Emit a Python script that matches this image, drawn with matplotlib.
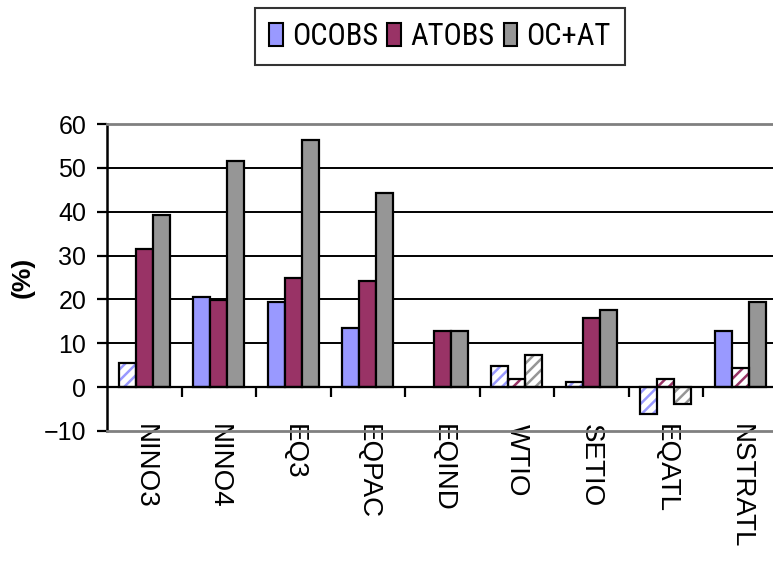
import numpy as np
import matplotlib
matplotlib.use("Agg")
import matplotlib.pyplot as plt
from matplotlib.patches import Patch
from matplotlib import font_manager

regions = ["NINO3", "NINO4", "EQ3", "EQPAC", "EQIND", "WTIO", "SETIO", "EQATL", "NSTRATL"]
series_names = ["OCOBS", "ATOBS", "OC+AT"]
ocobs = [5.6, 20.6, 19.3, 13.4, 0.0, 4.8, 1.2, -6.2, 12.8]
atobs = [31.5, 19.8, 24.9, 24.2, 12.8, 1.9, 15.7, 1.9, 4.3]
ocat = [39.3, 51.5, 56.3, 44.3, 12.8, 7.3, 17.6, -3.8, 19.4]
# True where the value is not significant (drawn as a hatched, unfilled bar)
ocobs_hatched = [True, False, False, False, False, True, True, True, False]
atobs_hatched = [False, False, False, False, False, True, False, True, True]
ocat_hatched = [False, False, False, False, False, True, False, True, False]
yticks = [-10, 0, 10, 20, 30, 40, 50, 60]

colors = ["#9999FF", "#993366", "#969696"]

installed = {f.name for f in font_manager.fontManager.ttflist}

def pick_family(names):
    for n in names:
        if n in installed:
            return n
    return "DejaVu Sans"

base_font = pick_family(["Liberation Sans", "Arial", "DejaVu Sans"])
narrow_candidates = ["Liberation Sans Narrow", "Arial Narrow", "Roboto Condensed",
                     "DejaVu Sans Condensed"]
narrow_font = next((n for n in narrow_candidates if n in installed), None)
plt.rcParams["font.family"] = [base_font, "DejaVu Sans"]
plt.rcParams["hatch.linewidth"] = 1.8

W, H = 773, 568
fig = plt.figure(figsize=(W / 100, H / 100), dpi=100)
left, right, top, bottom = 107, 777.5, 124, 431
ax = fig.add_axes([left / W, 1 - bottom / H, (right - left) / W, (bottom - top) / H])

x = np.arange(len(regions))
bw = 0.23
data = [ocobs, atobs, ocat]
flags = [ocobs_hatched, atobs_hatched, ocat_hatched]
for k, (vals, hat, col) in enumerate(zip(data, flags, colors)):
    xs = x + (k - 1) * bw
    for xi, v, h in zip(xs, vals, hat):
        if v == 0:
            continue
        if h:
            ax.bar(xi, v, bw, color="white", edgecolor=col, hatch="///", linewidth=0, zorder=3)
            ax.bar(xi, v, bw, fill=False, edgecolor="black", linewidth=1.6, zorder=4)
        else:
            ax.bar(xi, v, bw, color=col, edgecolor="black", linewidth=1.6, zorder=3)

ax.set_xlim(-0.5, len(regions) - 0.5)
ax.set_ylim(-10, 60)

# horizontal gridlines
for yv in yticks[2:-1]:
    ax.axhline(yv, color="black", linewidth=1.4, zorder=1)
ax.axhline(0, color="black", linewidth=1.6, zorder=5)

# tick marks between categories hanging below the zero line
ax.vlines(x[:-1] + 0.5, 0, -2.3, color="black", linewidth=1.6, zorder=5)

for s in ["top", "bottom", "right"]:
    ax.spines[s].set_color("#808080")
    ax.spines[s].set_linewidth(2)
ax.spines["left"].set_color("black")
ax.spines["left"].set_linewidth(1.8)

ax.set_yticks(yticks)
ax.tick_params(axis="y", direction="out", length=7, width=1.6, pad=8, labelsize=18)
ax.set_xticks(x)
ax.set_xticklabels(regions, rotation=-90, fontsize=20)
ax.tick_params(axis="x", length=0, pad=-5)
for lab in ax.get_xticklabels():
    lab.set_va("top")
    lab.set_ha("center")

fig.text(23 / W, 1 - 277 / H, "(%)", rotation=90, fontsize=19, fontweight="bold",
         ha="center", va="center")

if narrow_font:
    leg_prop = {"family": narrow_font, "size": 22}
else:
    leg_prop = {"family": base_font, "size": 17.5}
handles = [Patch(facecolor=c, edgecolor="black", linewidth=1.5) for c in colors]
leg = fig.legend(handles, series_names, loc="center", bbox_to_anchor=(440 / W, 1 - 36.5 / H),
                 ncol=3, frameon=True, fancybox=False, handlelength=0.45, handleheight=0.75,
                 handletextpad=0.3, columnspacing=0.3, borderpad=0.45, borderaxespad=0,
                 prop=leg_prop)
leg.get_frame().set_edgecolor("black")
leg.get_frame().set_linewidth(1.5)

fig.savefig("out.png", dpi=100)
